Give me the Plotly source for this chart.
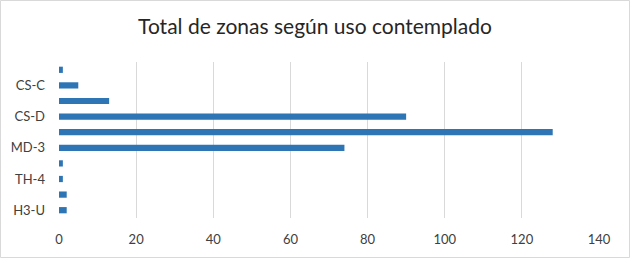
import plotly.graph_objects as go

categories = ["H3-U", "H4-U", "TH-4", "TH-3", "MD-3", "MD-4", "CS-D", "CS-B", "CS-C", "CS-A"]
values = [2, 2, 1, 1, 74, 128, 90, 13, 5, 1]
shown_labels = ["H3-U", "TH-4", "MD-3", "CS-D", "CS-C"]
x_ticks = [0, 20, 40, 60, 80, 100, 120, 140]

W, H = 630, 258
L, R, T, B = 59, 31, 62, 40

fig = go.Figure(go.Bar(
    y=categories, x=values, orientation="h",
    marker=dict(color="#2E75B6", line=dict(width=0)),
))

pw = W - L - R
ph = H - T - B
fig.add_shape(type="rect", xref="paper", yref="paper",
              x0=(-L + 0.5) / pw, x1=(pw + R - 0.5) / pw,
              y0=(-B + 0.5) / ph, y1=(ph + T - 0.5) / ph,
              line=dict(color="#D9D9D9", width=1), layer="below")

fig.update_layout(
    width=W, height=H,
    margin=dict(l=L, r=R, t=T, b=B, autoexpand=False),
    paper_bgcolor="white", plot_bgcolor="white",
    bargap=0.6,
    showlegend=False,
    title=dict(text="Total de zonas según uso contemplado", x=0.5, xanchor="center",
               xref="container", yref="container",
               y=1 - 27 / H, yanchor="middle", automargin=False,
               font=dict(family="Lato, Open Sans, sans-serif", size=21, color="#262626")),
    font=dict(family="Lato, Open Sans, sans-serif", size=13, color="#404040"),
)
fig.update_xaxes(range=[0, 140], tickvals=x_ticks, showgrid=True, gridcolor="#D9D9D9",
                 gridwidth=1, zeroline=False, showline=False, ticks="",
                 automargin=False, ticklabelstandoff=12,
                 tickfont=dict(size=13, color="#404040"))
fig.update_yaxes(categoryorder="array", categoryarray=categories,
                 tickvals=shown_labels, ticktext=shown_labels,
                 showgrid=False, zeroline=False, showline=False, ticks="",
                 automargin=False, ticklabelstandoff=13,
                 tickfont=dict(size=13, color="#404040"))

fig.write_html("out.html", config={"displayModeBar": False},
               post_script="document.body.style.margin='0';document.body.style.overflow='hidden';")
